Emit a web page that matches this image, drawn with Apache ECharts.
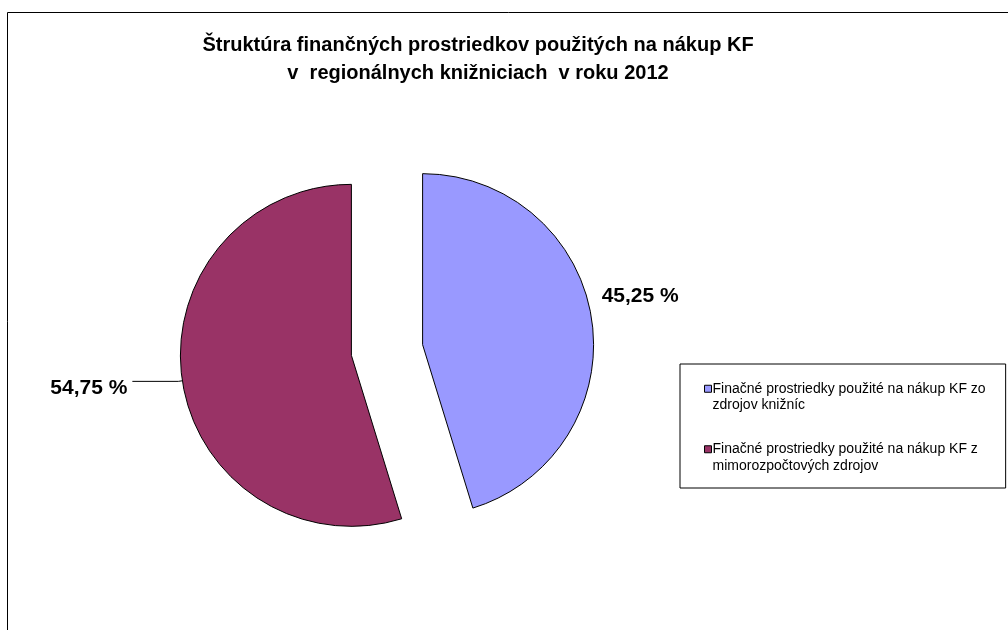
<!DOCTYPE html>
<html>
<head>
<meta charset="utf-8">
<script src="https://cdn.jsdelivr.net/npm/echarts@6/dist/echarts.min.js"></script>
<style>
  html, body { margin: 0; padding: 0; background: #fff; }
  #chart { width: 1008px; height: 630px; }
</style>
</head>
<body>
<div id="chart"></div>
<script>
// data
const titleLines = ['Štruktúra finančných prostriedkov použitých na nákup KF', 'v  regionálnych knižniciach  v roku 2012'];
const categories = [
  'Finačné prostriedky použité na nákup KF zo\nzdrojov knižníc',
  'Finačné prostriedky použité na nákup KF z\nmimorozpočtových zdrojov'
];
const values = [45.25, 54.75];
const colors = ['#9999FF', '#993366'];

const font = '"Liberation Sans", Arial, sans-serif';
const chart = echarts.init(document.getElementById('chart'));

chart.setOption({
  backgroundColor: '#fff',
  animation: false,
  graphic: [{
    type: 'rect', silent: true,
    shape: { x: 7.5, y: 12.5, width: 1100, height: 700 },
    style: { fill: 'none', stroke: '#000', lineWidth: 1 }
  }],
  title: {
    text: titleLines.join('\n'),
    left: 478, top: 31, textAlign: 'center',
    padding: 0,
    textStyle: { fontFamily: font, fontSize: 20, fontWeight: 'bold', color: '#000', lineHeight: 28 }
  },
  legend: {
    orient: 'vertical',
    left: 680, top: 364,
    padding: [0, 20, 14, 24],
    itemGap: 11,
    itemWidth: 7, itemHeight: 7,
    icon: 'rect',
    borderColor: '#000', borderWidth: 1,
    selectedMode: false,
    // blank first line so the icon sits beside the first text line
    formatter: name => ' \n' + name,
    textStyle: { fontFamily: font, fontSize: 14, color: '#000', lineHeight: 16.5, padding: [0, 0, 0, -4] },
    itemStyle: { borderColor: '#000', borderWidth: 1 },
    data: categories
  },
  series: [{
    type: 'pie',
    center: [387, 350],
    radius: [0, 171],
    startAngle: 90,
    clockwise: true,
    selectedMode: 'multiple',
    selectedOffset: 36,
    emphasis: { disabled: true },
    itemStyle: { borderColor: '#000', borderWidth: 1 },
    label: {
      show: true,
      position: 'outside',
      fontFamily: font, fontSize: 21, fontWeight: 'bold', color: '#000',
      formatter: p => p.value.toFixed(2).replace('.', ',') + ' %'
    },
    labelLine: { show: true, length: 4, length2: 46, lineStyle: { color: '#000', width: 1 } },
    labelLayout: p => p.dataIndex === 0 ? { dx: -45, dy: -22 } : { dy: 7 },
    data: categories.map((name, i) => ({
      name: name,
      value: values[i],
      selected: true,
      itemStyle: { color: colors[i] },
      labelLine: { show: i === 1 }
    }))
  }]
});
</script>
</body>
</html>
